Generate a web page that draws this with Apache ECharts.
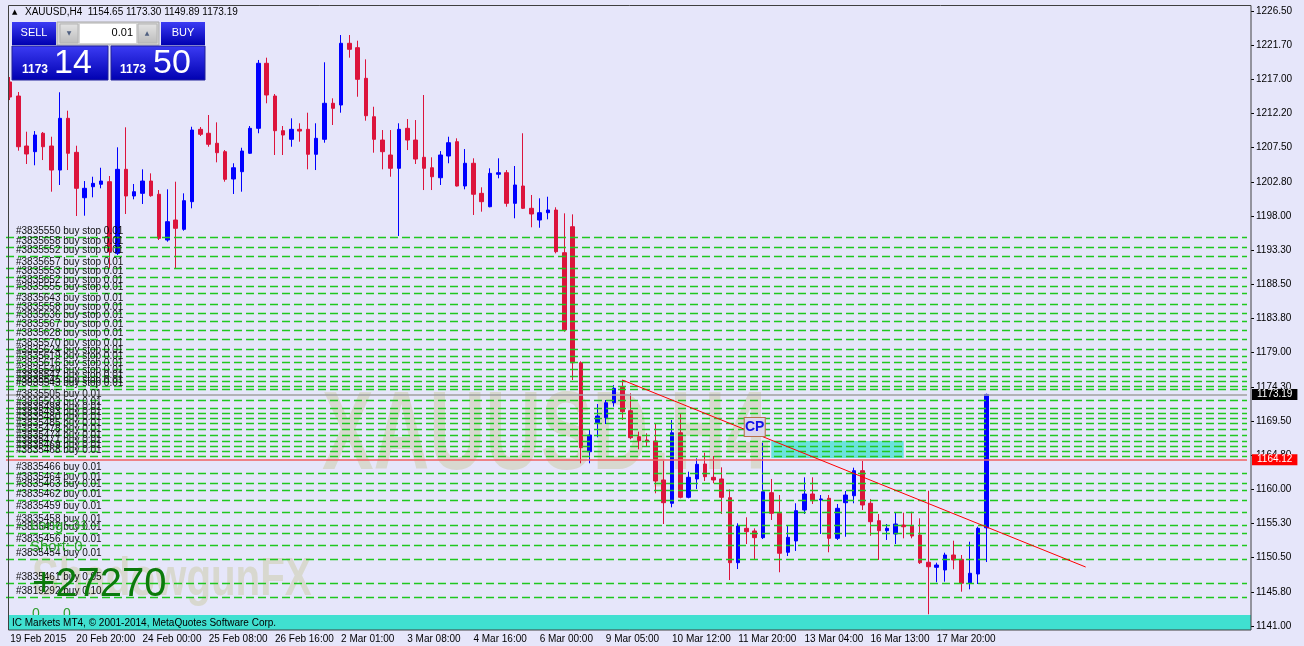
<!DOCTYPE html>
<html>
<head>
<meta charset="utf-8">
<title>XAUUSD,H4</title>
<script src="https://cdn.jsdelivr.net/npm/echarts@6/dist/echarts.min.js"></script>
<style>
  html, body { margin: 0; padding: 0; background: #E6E6FA; }
  #chart { width: 1304px; height: 646px; }
</style>
</head>
<body>
<div id="chart"></div>
<script>
const xTickLabels = ['19 Feb 2015', '20 Feb 20:00', '24 Feb 00:00', '25 Feb 08:00', '26 Feb 16:00', '2 Mar 01:00', '3 Mar 08:00',
  '4 Mar 16:00', '6 Mar 00:00', '9 Mar 05:00', '10 Mar 12:00', '11 Mar 20:00', '13 Mar 04:00', '16 Mar 13:00', '17 Mar 20:00']
const yTickLabels = ['1141.00', '1145.80', '1150.50', '1155.30', '1160.00', '1164.80', '1169.50', '1174.30', '1179.00', '1183.80',
  '1188.50', '1193.30', '1198.00', '1202.80', '1207.50', '1212.20', '1217.00', '1221.70', '1226.50']

// H4 bars, oldest first
const opens = [1216.63, 1214.68, 1207.73, 1206.94, 1209.50, 1207.73, 1204.39, 1211.58, 1206.85, 1200.54,
  1202.07, 1202.41, 1202.77, 1192.81, 1204.49, 1200.78, 1201.15, 1202.86, 1201.02, 1194.66,
  1197.44, 1196.15, 1199.99, 1210.05, 1209.50, 1208.11, 1206.94, 1203.14, 1204.16, 1206.72,
  1210.19, 1219.23, 1214.68, 1209.86, 1208.66, 1210.05, 1210.05, 1206.58, 1208.66, 1213.67,
  1213.43, 1222.01, 1221.40, 1217.14, 1211.80, 1208.56, 1206.48, 1204.63, 1210.19, 1208.56,
  1206.16, 1204.71, 1203.32, 1206.34, 1208.33, 1202.17, 1205.33, 1201.15, 1199.29, 1203.80,
  1204.02, 1199.76, 1202.17, 1199.07, 1197.44, 1198.46, 1198.83, 1192.90, 1196.51, 1177.60,
  1165.23, 1169.26, 1169.96, 1172.04, 1174.18, 1170.93, 1167.32, 1166.86, 1166.72, 1161.30,
  1158.06, 1167.87, 1158.89, 1161.44, 1163.52, 1161.67, 1161.44, 1158.84, 1149.80, 1154.58,
  1154.21, 1153.28, 1159.53, 1156.67, 1151.25, 1152.82, 1157.13, 1159.35, 1158.52, 1158.75,
  1153.19, 1158.14, 1159.11, 1162.59, 1158.06, 1155.64, 1154.25, 1153.79, 1155.04, 1154.90,
  1153.65, 1149.86, 1149.16, 1148.79, 1150.87, 1150.27, 1146.94, 1148.23, 1154.65]
const closes = [1214.54, 1207.63, 1206.62, 1209.26, 1207.63, 1204.39, 1211.58, 1206.72, 1201.85, 1201.85,
  1202.54, 1202.86, 1193.04, 1204.49, 1200.78, 1201.38, 1202.86, 1200.82, 1194.90, 1197.21,
  1196.29, 1200.13, 1209.95, 1209.36, 1207.97, 1206.80, 1203.10, 1204.71, 1207.03, 1210.19,
  1219.23, 1214.82, 1209.86, 1209.26, 1210.05, 1209.81, 1206.58, 1208.80, 1213.67, 1212.97,
  1222.01, 1221.17, 1217.00, 1211.94, 1208.66, 1206.94, 1204.63, 1210.05, 1208.56, 1205.92,
  1204.63, 1203.46, 1206.48, 1208.19, 1202.17, 1205.33, 1201.02, 1199.99, 1203.93, 1204.02,
  1199.76, 1202.31, 1199.07, 1198.28, 1198.46, 1198.83, 1193.04, 1182.15, 1177.60, 1165.79,
  1167.55, 1170.19, 1172.04, 1174.04, 1170.79, 1167.18, 1166.76, 1166.62, 1161.16, 1158.14,
  1167.87, 1158.89, 1161.67, 1163.48, 1161.76, 1161.30, 1158.89, 1149.80, 1154.90, 1154.11,
  1153.28, 1159.67, 1156.67, 1151.11, 1153.33, 1157.03, 1159.35, 1158.42, 1158.66, 1153.19,
  1157.36, 1159.21, 1162.59, 1157.82, 1155.50, 1154.25, 1154.58, 1155.18, 1154.80, 1153.51,
  1149.80, 1149.24, 1149.48, 1150.87, 1150.18, 1146.94, 1148.33, 1154.58, 1173.19]
const lows = [1214.12, 1207.08, 1205.23, 1205.05, 1205.78, 1201.38, 1202.31, 1204.39, 1198.00, 1198.04,
  1200.60, 1201.85, 1190.77, 1192.58, 1198.28, 1200.32, 1199.67, 1200.68, 1194.66, 1194.43,
  1190.63, 1195.95, 1199.07, 1209.12, 1207.63, 1205.46, 1202.77, 1201.06, 1201.38, 1206.62,
  1209.50, 1213.67, 1206.48, 1206.48, 1207.63, 1208.33, 1204.49, 1204.39, 1208.19, 1210.65,
  1212.36, 1220.01, 1214.58, 1211.25, 1206.80, 1204.49, 1203.46, 1195.22, 1207.17, 1205.23,
  1201.61, 1201.61, 1202.31, 1205.33, 1202.10, 1201.71, 1198.14, 1198.60, 1199.21, 1203.24,
  1199.29, 1197.68, 1198.97, 1196.43, 1196.37, 1197.54, 1192.81, 1181.91, 1175.20, 1163.62,
  1163.62, 1167.23, 1169.08, 1171.49, 1169.64, 1166.96, 1165.57, 1165.93, 1159.45, 1155.18,
  1157.50, 1158.75, 1158.75, 1160.05, 1161.16, 1160.84, 1156.57, 1147.39, 1148.92, 1152.40,
  1150.18, 1153.09, 1155.74, 1148.47, 1150.73, 1151.43, 1156.57, 1157.96, 1153.79, 1151.25,
  1152.96, 1153.41, 1158.06, 1157.13, 1153.55, 1150.18, 1152.96, 1152.40, 1153.19, 1153.19,
  1149.62, 1142.63, 1147.08, 1147.16, 1148.88, 1145.77, 1146.10, 1146.84, 1149.89]
const highs = [1217.32, 1215.24, 1209.72, 1209.81, 1209.68, 1209.02, 1215.20, 1212.64, 1207.77, 1202.86,
  1203.46, 1204.71, 1203.56, 1207.55, 1210.33, 1202.45, 1204.49, 1203.93, 1201.61, 1201.71,
  1202.77, 1201.15, 1210.41, 1210.37, 1212.04, 1211.02, 1207.17, 1205.33, 1207.49, 1210.51,
  1219.69, 1220.01, 1214.96, 1210.51, 1211.58, 1210.89, 1212.36, 1210.89, 1219.37, 1214.36,
  1223.16, 1223.16, 1222.37, 1219.78, 1213.19, 1209.95, 1209.95, 1210.89, 1211.48, 1211.34,
  1214.82, 1206.16, 1207.03, 1209.02, 1208.80, 1207.31, 1206.02, 1201.99, 1204.63, 1206.02,
  1204.39, 1204.95, 1209.50, 1200.92, 1200.46, 1200.68, 1199.21, 1198.37, 1198.23, 1177.80,
  1168.35, 1171.86, 1172.42, 1174.50, 1175.20, 1173.35, 1168.01, 1167.79, 1169.18, 1163.98,
  1169.64, 1170.47, 1162.45, 1164.31, 1165.09, 1164.63, 1163.06, 1160.00, 1155.28, 1156.11,
  1154.58, 1166.48, 1161.44, 1159.21, 1154.94, 1158.06, 1161.67, 1161.67, 1159.21, 1159.21,
  1157.96, 1159.77, 1163.01, 1163.94, 1158.66, 1156.57, 1155.18, 1156.75, 1156.75, 1156.89,
  1155.97, 1159.81, 1149.80, 1151.19, 1152.86, 1150.87, 1152.72, 1154.80, 1173.30]

// pending buy stop orders
const stopPrices = [1195.04, 1193.65, 1192.44, 1190.73, 1189.48, 1188.27, 1187.25, 1185.72, 1184.47, 1183.30,
  1182.05, 1180.86, 1179.47, 1178.54, 1177.60, 1176.73, 1175.66, 1175.06, 1174.36, 1173.91]
const stopTickets = ['#3835550', '#3835658', '#3835552', '#3835657', '#3835553', '#3835652', '#3835555', '#3835643', '#3835558', '#3835636',
  '#3835567', '#3835628', '#3835570', '#3835624', '#3835619', '#3835616', '#3835549', '#3835547', '#3835545', '#3835543']

// open buy positions
const buyPrices = [1172.32, 1171.26, 1170.57, 1169.87, 1169.18, 1168.32, 1167.55, 1166.62, 1165.93, 1165.23, 1164.63,
  1162.23, 1160.84, 1159.91, 1158.52, 1156.75, 1154.94, 1153.86, 1152.26, 1150.29, 1146.88, 1144.96]
const buyTickets = ['#3835505', '#3835503', '#3835498', '#3835493', '#3835480', '#3835485', '#3835478', '#3835474', '#3835471', '#3835469', '#3835468',
  '#3835466', '#3835464', '#3835463', '#3835462', '#3835459', '#3835458', '#3835457', '#3835456', '#3835454', '#3835461', '#3819292']
const buyLots = ['0.01', '0.01', '0.01', '0.01', '0.01', '0.01', '0.01', '0.01', '0.01', '0.01', '0.01',
  '0.01', '0.01', '0.01', '0.01', '0.01', '0.01', '0.01', '0.01', '0.01', '0.05', '0.10']

const bidPrice = 1173.19
const hLinePrice = 1164.12
const trendStart = [74, 1175.2]
const trendEnd = [130, 1149.2]
const boxStart = [92, 1166.72]
const boxEnd = [108, 1164.36]
const cpPoint = [90, 1168.67]
const quoteBid = 1173.14
const quoteAsk = 1173.50
const lotSize = '0.01'
const longCount = 31
const shortCount = 0
const profit = '+27270'

const font = '"Liberation Sans", Arial, sans-serif'
const barCount = 150
const cats = Array.from({ length: barCount }, (_, i) => String(i))
const candles = opens.map((o, i) => [o, closes[i], lows[i], highs[i]])
const showTick = (i) => i % 8 === 0 && i / 8 < xTickLabels.length
const last = opens.length - 1

const orderLines = []
stopPrices.forEach((p, i) => {
  orderLines.push({ yAxis: p, label: { formatter: stopTickets[i] + ' buy stop 0.01' } })
})
buyPrices.forEach((p, i) => {
  orderLines.push({ yAxis: p, label: { formatter: buyTickets[i] + ' buy ' + buyLots[i] } })
})

const blueFill = {
  type: 'linear', x: 0, y: 0, x2: 0, y2: 1,
  colorStops: [{ offset: 0, color: '#3c3cf4' }, { offset: 1, color: '#0000b0' }]
}
const greyFill = {
  type: 'linear', x: 0, y: 0, x2: 0, y2: 1,
  colorStops: [{ offset: 0, color: '#e4e4e4' }, { offset: 1, color: '#bcbcbc' }]
}

const myChart = echarts.init(document.getElementById('chart'))
myChart.setOption({
  animation: false,
  backgroundColor: '#E6E6FA',
  textStyle: { fontFamily: font },
  grid: { left: 6, right: 57, top: 11, bottom: 20 },
  xAxis: {
    type: 'category',
    data: cats,
    boundaryGap: true,
    offset: 4,
    axisLine: { show: false },
    axisTick: { show: true, alignWithLabel: true, length: 3, interval: showTick, lineStyle: { color: '#000' } },
    axisLabel: {
      interval: showTick,
      formatter: (v, i) => xTickLabels[i / 8] || '',
      align: 'left',
      margin: 4,
      color: '#000',
      fontSize: 10,
      fontFamily: font
    },
    splitLine: { show: false }
  },
  yAxis: [
    { type: 'value', min: 1141, max: 1226.5, show: false },
    {
      type: 'value',
      min: 0,
      max: 18,
      interval: 1,
      position: 'right',
      offset: 4,
      axisLine: { show: false },
      axisTick: { show: true, length: 3, lineStyle: { color: '#000' } },
      axisLabel: { formatter: (v) => yTickLabels[v], margin: 5, color: '#000', fontSize: 10, fontFamily: font },
      splitLine: { show: false }
    }
  ],
  series: [
    {
      name: 'orders',
      type: 'line',
      data: [],
      z: 1,
      markLine: {
        silent: true,
        symbol: ['none', 'none'],
        lineStyle: { color: '#1FC81F', type: [8, 4], width: 1.3, opacity: 1 },
        label: {
          show: true,
          position: 'insideStartTop',
          distance: [10, 1],
          color: '#101010',
          fontSize: 10,
          fontFamily: font
        },
        data: orderLines
      },
      markArea: {
        silent: true,
        itemStyle: { color: 'rgba(64, 224, 208, 0.75)' },
        data: [[{ coord: [String(boxStart[0]), boxStart[1]] }, { coord: [String(boxEnd[0]), boxEnd[1]] }]]
      }
    },
    {
      name: 'levels',
      type: 'line',
      data: [],
      z: 2,
      markLine: {
        silent: true,
        symbol: ['none', 'none'],
        data: [
          {
            yAxis: bidPrice,
            lineStyle: { color: '#a0a0a0', type: 'solid', width: 1.5 },
            label: {
              show: true, position: 'end', distance: 5, formatter: bidPrice.toFixed(2),
              backgroundColor: '#000', color: '#fff', padding: [1, 5, 0, 5], fontSize: 10, fontFamily: font
            }
          },
          {
            yAxis: hLinePrice,
            lineStyle: { color: '#F06060', type: 'solid', width: 1.5 },
            label: {
              show: true, position: 'end', distance: 5, formatter: hLinePrice.toFixed(2),
              backgroundColor: '#FF0000', color: '#fff', padding: [1, 5, 0, 5], fontSize: 10, fontFamily: font
            }
          }
        ]
      }
    },
    {
      name: 'XAUUSD',
      type: 'candlestick',
      data: candles,
      barWidth: 4,
      z: 3,
      itemStyle: {
        color: '#0000FF',
        color0: '#DC143C',
        borderColor: '#0000FF',
        borderColor0: '#DC143C',
        borderWidth: 1
      }
    },
    {
      name: 'objects',
      type: 'line',
      data: [],
      z: 4,
      markLine: {
        silent: true,
        symbol: ['none', 'none'],
        label: { show: false },
        lineStyle: { color: '#FF0000', type: 'solid', width: 1 },
        data: [[{ coord: [String(trendStart[0]), trendStart[1]] }, { coord: [String(trendEnd[0]), trendEnd[1]] }]]
      },
      markPoint: {
        silent: true,
        data: [{
          coord: [String(cpPoint[0]), cpPoint[1]],
          symbol: 'rect',
          symbolSize: [21, 19],
          itemStyle: { color: '#DCD6EC', borderColor: '#B8704A', borderWidth: 1 },
          label: { show: true, position: 'inside', formatter: 'CP', color: '#1212E8', fontWeight: 'bold', fontSize: 14, fontFamily: font }
        }]
      }
    }
  ],
  graphic: {
    elements: [
      {
        type: 'text', x: 322, y: 438, scaleX: 0.69, z: 0, silent: true,
        style: { text: 'XAUUSD,H4', fill: '#D8D8CF', font: 'bold 112px "Liberation Sans"', verticalAlign: 'middle' }
      },
      {
        type: 'text', x: 32, y: 580, scaleX: 0.76, z: 0, silent: true,
        style: { text: 'ShadowgunFX', fill: '#D8D8CF', font: 'bold 53px "Liberation Sans"', verticalAlign: 'middle' }
      },
      {
        type: 'rect', z: 50, silent: true,
        shape: { x: 8, y: 615, width: 1243, height: 15 },
        style: { fill: '#40E0D0' }
      },
      {
        type: 'text', x: 12, y: 623, z: 51, silent: true,
        style: { text: 'IC Markets MT4, © 2001-2014, MetaQuotes Software Corp.', fill: '#000', font: '10px "Liberation Sans"', verticalAlign: 'middle' }
      },
      {
        type: 'rect', z: 52, silent: true,
        shape: { x: 8.5, y: 5.5, width: 1242.5, height: 624.5 },
        style: { fill: 'none', stroke: '#404040', lineWidth: 1 }
      },
      {
        type: 'text', x: 30, y: 526, z: 20, silent: true,
        style: { text: 'Long: ' + longCount, fill: '#2E9E2E', font: '15px "Liberation Sans"', verticalAlign: 'middle' }
      },
      {
        type: 'text', x: 30, y: 547, z: 20, silent: true,
        style: { text: 'Short: ' + shortCount, fill: '#2E9E2E', font: '15px "Liberation Sans"', verticalAlign: 'middle' }
      },
      {
        type: 'text', x: 32, y: 585, z: 20, silent: true,
        style: { text: profit, fill: '#0B7A0B', font: '40px "Liberation Sans"', verticalAlign: 'middle' }
      },
      {
        type: 'text', x: 32, y: 614, z: 20, silent: true,
        style: { text: '0', fill: '#2E9E2E', font: '14px "Liberation Sans"', verticalAlign: 'middle' }
      },
      {
        type: 'text', x: 63, y: 614, z: 20, silent: true,
        style: { text: '0', fill: '#2E9E2E', font: '14px "Liberation Sans"', verticalAlign: 'middle' }
      },
      {
        type: 'text', x: 12, y: 12, z: 60, silent: true,
        style: { text: '▲', fill: '#000', font: '7px "DejaVu Sans"', verticalAlign: 'middle' }
      },
      {
        type: 'text', x: 25, y: 12, z: 60, silent: true,
        style: {
          text: 'XAUUSD,H4  ' + [opens[last], highs[last], lows[last], closes[last]].map((v) => v.toFixed(2)).join(' '),
          fill: '#000', font: '10px "Liberation Sans"', verticalAlign: 'middle'
        }
      },
      { type: 'rect', z: 60, silent: true, shape: { x: 12, y: 22, width: 44, height: 23 }, style: { fill: blueFill } },
      { type: 'text', x: 34, y: 33, z: 61, silent: true, style: { text: 'SELL', fill: '#fff', font: '11px "Liberation Sans"', align: 'center', verticalAlign: 'middle' } },
      { type: 'rect', z: 60, silent: true, shape: { x: 57, y: 22, width: 102, height: 23 }, style: { fill: '#d6d6d6', stroke: '#a8a8a8' } },
      { type: 'rect', z: 61, silent: true, shape: { x: 60, y: 24, width: 18, height: 19 }, style: { fill: greyFill, stroke: '#b4b4b4' } },
      { type: 'text', x: 69, y: 33, z: 62, silent: true, style: { text: '▼', fill: '#506080', font: '6px "DejaVu Sans"', align: 'center', verticalAlign: 'middle' } },
      { type: 'rect', z: 61, silent: true, shape: { x: 80, y: 24, width: 56, height: 19 }, style: { fill: '#ffffff' } },
      { type: 'text', x: 133, y: 33, z: 62, silent: true, style: { text: lotSize, fill: '#000', font: '11px "Liberation Sans"', align: 'right', verticalAlign: 'middle' } },
      { type: 'rect', z: 61, silent: true, shape: { x: 138, y: 24, width: 19, height: 19 }, style: { fill: greyFill, stroke: '#b4b4b4' } },
      { type: 'text', x: 147, y: 33, z: 62, silent: true, style: { text: '▲', fill: '#506080', font: '6px "DejaVu Sans"', align: 'center', verticalAlign: 'middle' } },
      { type: 'rect', z: 60, silent: true, shape: { x: 161, y: 22, width: 44, height: 23 }, style: { fill: blueFill } },
      { type: 'text', x: 183, y: 33, z: 61, silent: true, style: { text: 'BUY', fill: '#fff', font: '11px "Liberation Sans"', align: 'center', verticalAlign: 'middle' } },
      { type: 'rect', z: 60, silent: true, shape: { x: 12, y: 46, width: 96, height: 34 }, style: { fill: blueFill, stroke: '#20209a' } },
      { type: 'text', x: 22, y: 70, z: 61, silent: true, style: { text: quoteBid.toFixed(2).slice(0, 4), fill: '#fff', font: 'bold 12px "Liberation Sans"', verticalAlign: 'middle' } },
      { type: 'text', x: 54, y: 64, z: 61, silent: true, style: { text: quoteBid.toFixed(2).slice(-2), fill: '#fff', font: '34px "Liberation Sans"', verticalAlign: 'middle' } },
      { type: 'rect', z: 60, silent: true, shape: { x: 111, y: 46, width: 94, height: 34 }, style: { fill: blueFill, stroke: '#20209a' } },
      { type: 'text', x: 120, y: 70, z: 61, silent: true, style: { text: quoteAsk.toFixed(2).slice(0, 4), fill: '#fff', font: 'bold 12px "Liberation Sans"', verticalAlign: 'middle' } },
      { type: 'text', x: 153, y: 64, z: 61, silent: true, style: { text: quoteAsk.toFixed(2).slice(-2), fill: '#fff', font: '34px "Liberation Sans"', verticalAlign: 'middle' } }
    ]
  }
})
</script>
</body>
</html>
